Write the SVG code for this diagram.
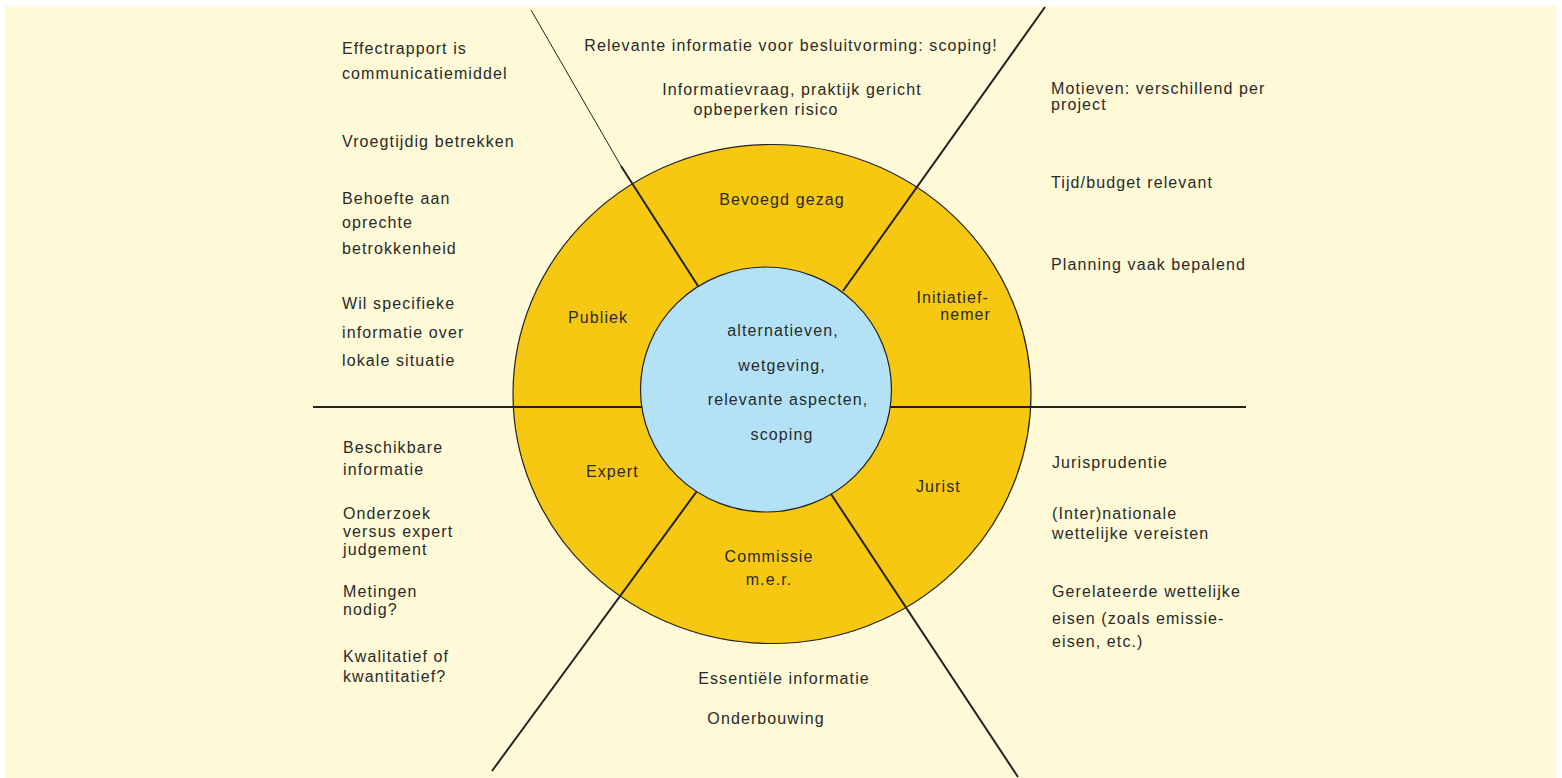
<svg xmlns="http://www.w3.org/2000/svg" width="1562" height="778" viewBox="0 0 1562 778">
  <style>
    .t { font-family: "Liberation Sans", Arial, sans-serif; font-size: 16px; letter-spacing: 1.1px; fill: #2a2a2a; }
    .c { text-anchor: middle; }
    .e { text-anchor: end; }
    .ln { stroke: #222; stroke-width: 2; fill: none; stroke-linecap: butt; }
    .thin { stroke: #222; stroke-width: 1; fill: none; }
  </style>
  <rect x="0" y="0" width="1562" height="778" fill="#ffffff"/>
  <rect x="5" y="6" width="1551" height="772" fill="#fef9d6"/>

  <!-- outer ring -->
  <g id="ring">
    <ellipse cx="772" cy="394" rx="259" ry="249.5" fill="#f6c811" stroke="#222" stroke-width="1.2"/>
  </g>

  <!-- dividing lines between the sectors -->
  <g id="connectors">
    <line class="thin" x1="531" y1="10" x2="621" y2="166"/>
    <line class="ln" x1="621" y1="166" x2="698" y2="286"/>
    <line class="ln" x1="1045" y1="7" x2="843" y2="291"/>
    <line class="ln" x1="313" y1="407" x2="645" y2="407"/>
    <line class="ln" x1="888" y1="407" x2="1246" y2="407"/>
    <line class="ln" x1="697" y1="491" x2="492" y2="771"/>
    <line class="ln" x1="831" y1="494" x2="1018" y2="777"/>
  </g>

  <!-- shared core topics -->
  <g id="core">
    <ellipse cx="766" cy="389.5" rx="125.5" ry="122.5" fill="#b3e2f7" stroke="#222" stroke-width="1.2"/>
    <text class="t c" x="783" y="336">alternatieven,</text>
    <text class="t c" x="782" y="371">wetgeving,</text>
    <text class="t c" x="788" y="405">relevante aspecten,</text>
    <text class="t c" x="782" y="440">scoping</text>
  </g>

  <!-- sector labels with their notes -->
  <g id="bevoegd-gezag">
    <text class="t c" x="782" y="205">Bevoegd gezag</text>
    <text class="t c" x="791" y="51">Relevante informatie voor besluitvorming: scoping!</text>
    <text class="t c" x="792" y="95">Informatievraag, praktijk gericht</text>
    <text class="t c" x="766" y="115">opbeperken risico</text>
  </g>

  <g id="initiatiefnemer">
    <text class="t e" x="989" y="303">Initiatief-</text>
    <text class="t e" x="991" y="320">nemer</text>
    <text class="t" x="1051" y="94">Motieven: verschillend per</text>
    <text class="t" x="1051" y="110">project</text>
    <text class="t" x="1051" y="188">Tijd/budget relevant</text>
    <text class="t" x="1051" y="270">Planning vaak bepalend</text>
  </g>

  <g id="jurist">
    <text class="t" x="916" y="492">Jurist</text>
    <text class="t" x="1052" y="468">Jurisprudentie</text>
    <text class="t" x="1052" y="519">(Inter)nationale</text>
    <text class="t" x="1052" y="539">wettelijke vereisten</text>
    <text class="t" x="1052" y="597">Gerelateerde wettelijke</text>
    <text class="t" x="1052" y="624">eisen (zoals emissie-</text>
    <text class="t" x="1052" y="647">eisen, etc.)</text>
  </g>

  <g id="commissie-mer">
    <text class="t c" x="769" y="562">Commissie</text>
    <text class="t c" x="769" y="585">m.e.r.</text>
    <text class="t c" x="784" y="684">Essentiële informatie</text>
    <text class="t c" x="766" y="724">Onderbouwing</text>
  </g>

  <g id="expert">
    <text class="t" x="586" y="477">Expert</text>
    <text class="t" x="343" y="453">Beschikbare</text>
    <text class="t" x="343" y="475">informatie</text>
    <text class="t" x="343" y="519">Onderzoek</text>
    <text class="t" x="343" y="537">versus expert</text>
    <text class="t" x="343" y="555">judgement</text>
    <text class="t" x="343" y="597">Metingen</text>
    <text class="t" x="343" y="615">nodig?</text>
    <text class="t" x="343" y="662">Kwalitatief of</text>
    <text class="t" x="343" y="682">kwantitatief?</text>
  </g>

  <g id="publiek">
    <text class="t" x="568" y="323">Publiek</text>
    <text class="t" x="342" y="54">Effectrapport is</text>
    <text class="t" x="342" y="79">communicatiemiddel</text>
    <text class="t" x="342" y="147">Vroegtijdig betrekken</text>
    <text class="t" x="342" y="204">Behoefte aan</text>
    <text class="t" x="342" y="228">oprechte</text>
    <text class="t" x="342" y="254">betrokkenheid</text>
    <text class="t" x="342" y="309">Wil specifieke</text>
    <text class="t" x="342" y="338">informatie over</text>
    <text class="t" x="342" y="366">lokale situatie</text>
  </g>
</svg>
